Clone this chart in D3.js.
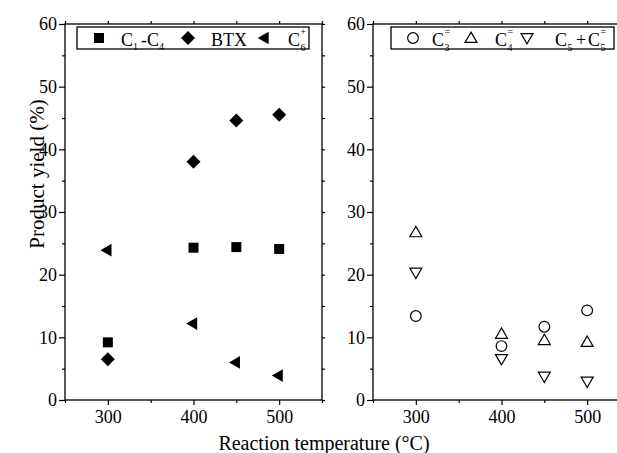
<!DOCTYPE html>
<html>
<head>
<meta charset="utf-8">
<script src="https://cdn.jsdelivr.net/npm/d3@7"></script>
<style>
  body { margin: 0; background: #fff; }
  svg { display: block; }
  svg text { font-family: "Liberation Serif", "Times New Roman", serif !important; fill: #000; }
  .frame { fill: none; stroke: #000; stroke-width: 1.3; }
</style>
</head>
<body>
<div id="chart"></div>
<script>
// chart size
var width = 617, height = 453;

// data
var temps = [300, 400, 450, 500];
var c1c4 = [9.2, 24.3, 24.4, 24.1];
var btx = [6.5, 38.0, 44.6, 45.5];
var c6plus = [23.9, 12.2, 6.0, 3.9];
var c3ene = [13.4, 8.6, 11.7, 14.3];
var c4ene = [26.6, 10.4, 9.4, 9.1];
var c5c5ene = [20.5, 6.7, 3.9, 3.1];

var xTicks = [300, 400, 500];
var xMinor = [250, 350, 450, 550];
var yTicks = [0, 10, 20, 30, 40, 50, 60];
var yMinor = [5, 15, 25, 35, 45, 55];

var svg = d3.select("#chart").append("svg")
    .attr("width", width)
    .attr("height", height);

var y = d3.scaleLinear().domain([0, 60]).range([400, 24]);

// two panels, right one runs past the picture edge
var panels = [
  { x0: 65, x1: 322 },
  { x0: 373, x1: 630 }
];

panels.forEach(function(p) {
  p.x = d3.scaleLinear().domain([250, 550]).range([p.x0, p.x1]);
  var g = svg.append("g");

  g.append("rect").attr("class", "frame")
      .attr("x", p.x0).attr("y", y(60))
      .attr("width", p.x1 - p.x0).attr("height", y(0) - y(60));

  // bottom axis
  var bottom = g.append("g").attr("transform", "translate(0," + y(0) + ")")
      .call(d3.axisBottom(p.x).tickValues(xTicks).tickSize(5).tickPadding(5));
  bottom.append("g").call(d3.axisBottom(p.x).tickValues(xMinor).tickSize(3).tickFormat(""));
  // left axis
  var left = g.append("g").attr("transform", "translate(" + p.x0 + ",0)")
      .call(d3.axisLeft(y).tickValues(yTicks).tickSize(6).tickPadding(2));
  left.append("g").call(d3.axisLeft(y).tickValues(yMinor).tickSize(3).tickFormat(""));
  // top & right small ticks
  g.append("g").attr("transform", "translate(0," + y(60) + ")")
      .call(d3.axisTop(p.x).tickValues(xTicks.concat(xMinor)).tickSize(3).tickFormat(""));
  g.append("g").attr("transform", "translate(" + p.x1 + ",0)")
      .call(d3.axisRight(y).tickValues(yTicks.concat(yMinor)).tickSize(3).tickFormat(""));

  g.selectAll(".domain").remove();
  g.selectAll("g").attr("font-family", null).attr("font-size", null);
  g.selectAll(".tick line").attr("stroke", "#000").attr("stroke-width", 1.2);
  g.selectAll(".tick text")
      .attr("font-family", "Liberation Serif")
      .style("font-size", "18px");
});

function addPoints(panel, values, sym, size, rot, filled) {
  svg.append("g").selectAll("path")
    .data(values)
    .join("path")
      .attr("d", d3.symbol().type(sym).size(size))
      .attr("transform", function(d, i) {
        return "translate(" + panel.x(temps[i]) + "," + y(d) + ") rotate(" + rot + ")";
      })
      .attr("fill", filled ? "#000" : "#fff")
      .attr("stroke", "#000")
      .attr("stroke-width", filled ? 0 : 1.2);
}

// left panel
addPoints(panels[0], c1c4, d3.symbolSquare, 100, 0, true);
addPoints(panels[0], btx, d3.symbolSquare, 98, 45, true);
addPoints(panels[0], c6plus, d3.symbolTriangle, 70, -90, true);
// right panel
addPoints(panels[1], c3ene, d3.symbolCircle, 90, 0, false);
addPoints(panels[1], c4ene, d3.symbolTriangle, 62, 0, false);
addPoints(panels[1], c5c5ene, d3.symbolTriangle, 62, 180, false);

// axis titles
svg.append("text")
    .attr("x", 324).attr("y", 450)
    .attr("text-anchor", "middle")
    .style("font-size", "20px")
    .text("Reaction temperature (\u00B0C)");
svg.append("text")
    .attr("transform", "translate(44,174) rotate(-90)")
    .attr("text-anchor", "middle")
    .style("font-size", "21px")
    .text("Product yield (%)");

// legends
function legendSym(x, yy, sym, size, rot, filled) {
  svg.append("path")
      .attr("d", d3.symbol().type(sym).size(size))
      .attr("transform", "translate(" + x + "," + yy + ") rotate(" + rot + ")")
      .attr("fill", filled ? "#000" : "#fff")
      .attr("stroke", "#000")
      .attr("stroke-width", filled ? 0 : 1.2);
}
function txt(x, yy, s, size) {
  svg.append("text").attr("x", x).attr("y", yy)
      .style("font-size", size + "px").text(s);
}

var ly = 46;
svg.append("rect").attr("class", "frame")
    .attr("x", 77).attr("y", 27).attr("width", 232).attr("height", 22);
legendSym(99, 38, d3.symbolSquare, 100, 0, true);
txt(121, ly, "C", 18); txt(133, ly + 4, "1", 10); txt(141, ly, "-", 18); txt(147, ly, "C", 18); txt(159, ly + 4, "4", 10);
legendSym(188, 38, d3.symbolSquare, 98, 45, true);
txt(211, ly, "BTX", 18);
legendSym(265, 38, d3.symbolTriangle, 70, -90, true);
txt(288, ly, "C", 18); txt(300.5, 35, "+", 10); txt(300.5, ly + 5, "6", 10);

svg.append("rect").attr("class", "frame")
    .attr("x", 391).attr("y", 27).attr("width", 223).attr("height", 22);
legendSym(413, 38, d3.symbolCircle, 90, 0, false);
txt(432, ly, "C", 18); txt(444.5, 35, "=", 10); txt(444.5, ly + 5, "3", 10);
legendSym(471, 39, d3.symbolTriangle, 62, 0, false);
txt(495, ly, "C", 18); txt(507.5, 35, "=", 10); txt(507.5, ly + 5, "4", 10);
legendSym(527, 37, d3.symbolTriangle, 62, 180, false);
txt(555, ly, "C", 18); txt(567.5, ly + 5, "5", 10); txt(576, ly, "+", 18); txt(588, ly, "C", 18);
txt(600.5, 35, "=", 10); txt(600.5, ly + 5, "5", 10);
</script>
</body>
</html>
